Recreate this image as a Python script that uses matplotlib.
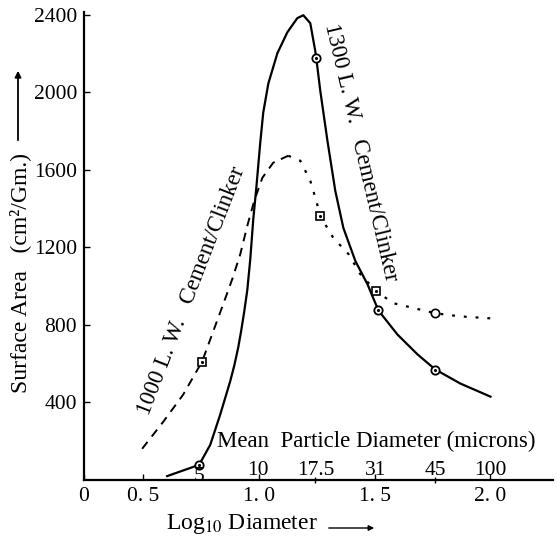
import matplotlib
matplotlib.use('Agg')
import matplotlib.pyplot as plt

plt.rcParams['font.family'] = ['Liberation Serif', 'DejaVu Serif']
plt.rcParams['mathtext.fontset'] = 'stix'

# 1300 L.W. curve (solid)
x1300 = [0.604, 0.742, 0.790, 0.833, 0.876, 0.894, 0.911, 0.924, 0.937, 0.950,
         0.963, 0.976, 0.989, 1.006, 1.019, 1.041, 1.080, 1.123, 1.166, 1.192,
         1.222, 1.243, 1.248, 1.265, 1.296, 1.330, 1.365, 1.417, 1.469, 1.516,
         1.598, 1.685, 1.762, 1.871, 2.000]
y1300 = [20, 78, 181, 337, 508, 591, 684, 772, 870, 979,
         1140, 1347, 1507, 1740, 1896, 2046, 2202, 2310, 2383, 2398,
         2357, 2217, 2176, 2010, 1751, 1492, 1300, 1129, 1010, 875,
         751, 648, 570, 497, 430]
pts1300_x = [0.742, 1.248, 1.516, 1.762]
pts1300_y = [78, 2176, 875, 570]

# 1000 L.W. curve: dashed rising part, dotted falling part
x1000a = [0.496, 0.587, 0.673, 0.755, 0.803, 0.846, 0.885, 0.920, 0.950, 0.980,
          1.015, 1.062, 1.127]
y1000a = [161, 300, 440, 611, 767, 907, 1036, 1166, 1311, 1440,
          1559, 1637, 1673]
x1000b = [1.127, 1.179, 1.222, 1.248, 1.265, 1.322, 1.387, 1.438, 1.507, 1.581,
          1.655, 1.762, 1.871, 2.000]
y1000b = [1673, 1647, 1544, 1440, 1362, 1248, 1166, 1062, 974, 912,
          891, 860, 844, 834]
pts1000_x = [0.755, 1.265, 1.507]
pts1000_y = [611, 1362, 974]
pt1000c_x = [1.762]
pt1000c_y = [860]

# mean particle diameter scale
diam_pos = [0.742, 0.997, 1.244, 1.503, 1.762, 2.000]
diam_lab = ['5', '10', '17.5', '31', '45', '100']

xticks = [0.245, 0.5, 1.0, 1.5, 2.0]
xlabels = ['0', '0. 5', '1. 0', '1. 5', '2. 0']
yticks = [400, 800, 1200, 1600, 2000, 2400]

fig = plt.figure(figsize=(5.57, 5.39), dpi=100)
ax = fig.add_axes([0.1508, 0.1095, 0.842, 0.868])

ax.plot(x1300, y1300, color='black', lw=1.6)
ax.plot(pts1300_x, pts1300_y, 'o', ms=6, mfc='white', mec='black', mew=1.3)
ax.plot(pts1300_x, pts1300_y, '.', ms=2.5, color='black')

ax.plot(x1000a, y1000a, color='black', lw=1.4, dashes=(4.5, 3.5))
ax.plot(x1000b, y1000b, color='black', lw=1.6, dashes=(1.3, 4.0))
ax.plot(pts1000_x, pts1000_y, 's', ms=5.5, mfc='white', mec='black', mew=1.2)
ax.plot(pts1000_x, pts1000_y, '.', ms=2.5, color='black')
ax.plot(pt1000c_x, pt1000c_y, 'o', ms=6, mfc='white', mec='black', mew=1.2)

ax.set_xlim(0.245, 2.27)
ax.set_ylim(0, 2414)
for s in ['top', 'right']:
    ax.spines[s].set_visible(False)
for s in ['left', 'bottom']:
    ax.spines[s].set_linewidth(1.6)

ax.set_xticks(xticks)
ax.set_xticklabels(xlabels, fontsize=15.5)
ax.set_yticks(yticks)
ax.set_yticklabels([str(v) for v in yticks], fontsize=15.5)
ax.set_xticks([1.244, 1.762], minor=True)
ax.tick_params(axis='both', direction='in', length=4, width=1, pad=5)
ax.tick_params(axis='x', which='minor', direction='inout', length=4, width=1)

for p, lab in zip(diam_pos, diam_lab):
    yy = 18 if lab == '5' else 48
    ax.text(p, yy, lab, fontsize=15.5, ha='center', va='center')
ax.text(0.82, 197, 'Mean  Particle Diameter (microns)', fontsize=16.5,
        ha='left', va='center')

ax.text(1.440, 1690, '1300 L. W.   Cement/Clinker', fontsize=16.5,
        rotation=-76.7, rotation_mode='anchor', ha='center', va='center')
ax.text(0.712, 975, '1000 L. W.   Cement/Clinker', fontsize=16.5,
        rotation=68.8, rotation_mode='anchor', ha='center', va='center')

# axis titles with arrows
fig.text(20 / 557, 1 - 273 / 539, 'Surface Area   (cm²/Gm.)', fontsize=17,
         rotation=90, ha='center', va='center')
fig.add_artist(matplotlib.patches.FancyArrowPatch(
    (18 / 557, 1 - 143 / 539), (18 / 557, 1 - 68 / 539),
    transform=fig.transFigure, arrowstyle='-|>', mutation_scale=9,
    lw=1.3, color='black'))
fig.text(242 / 557, 1 - 524 / 539, r'Log$_{\mathit{10}}$ Diameter', fontsize=17,
         ha='center', va='center')
fig.add_artist(matplotlib.patches.FancyArrowPatch(
    (326 / 557, 1 - 528 / 539), (377 / 557, 1 - 528 / 539),
    transform=fig.transFigure, arrowstyle='-|>', mutation_scale=8,
    lw=1.0, color='black'))

fig.savefig('out.png', dpi=100)
